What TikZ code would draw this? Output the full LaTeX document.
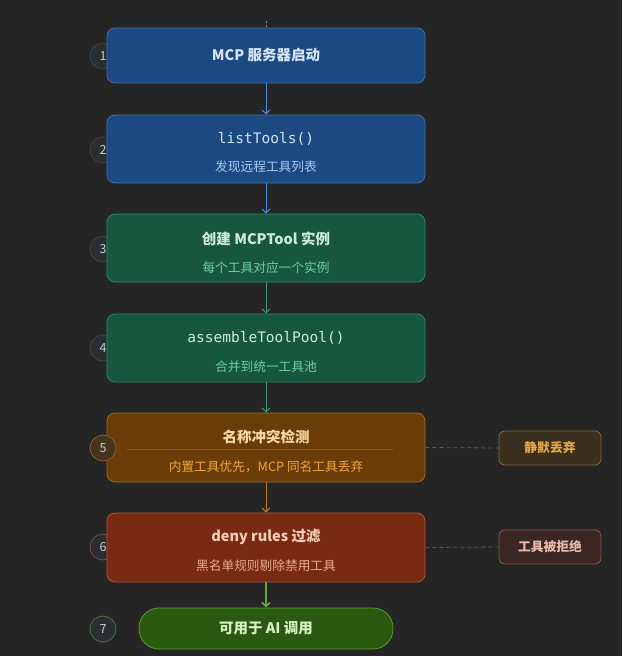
\documentclass[tikz,border=0pt]{standalone}
\usepackage{fontspec}
\setmainfont{Noto Sans CJK SC}
\setmonofont{DejaVu Sans Mono}
\usetikzlibrary{arrows.meta}
\definecolor{bg}{HTML}{252525}
\definecolor{bluefill}{HTML}{1B4A82}
\definecolor{blueline}{HTML}{3E6FA8}
\definecolor{bluetitle}{HTML}{D6E4F5}
\definecolor{bluesub}{HTML}{A9C9F0}
\definecolor{bluearrow}{HTML}{4F8CD6}
\definecolor{grnfill}{HTML}{17573F}
\definecolor{grnline}{HTML}{2E8764}
\definecolor{grntitle}{HTML}{CDEBDB}
\definecolor{grnsub}{HTML}{6FCF9F}
\definecolor{grnarrow}{HTML}{3A9A78}
\definecolor{orgfill}{HTML}{6A3C08}
\definecolor{orgline}{HTML}{A06A22}
\definecolor{orgtitle}{HTML}{F6DAA8}
\definecolor{orgsub}{HTML}{F0A63E}
\definecolor{orgarrow}{HTML}{B07A30}
\definecolor{redfill}{HTML}{782A12}
\definecolor{redline}{HTML}{B05636}
\definecolor{redtitle}{HTML}{F6CDB6}
\definecolor{redsub}{HTML}{E9AA92}
\definecolor{limefill}{HTML}{2A5A10}
\definecolor{limeline}{HTML}{5C9C32}
\definecolor{limetext}{HTML}{DAF0C4}
\definecolor{limearrow}{HTML}{6E9E42}
\definecolor{sideofill}{HTML}{3A2F1F}
\definecolor{sideoline}{HTML}{8A6A36}
\definecolor{sideotext}{HTML}{E8A841}
\definecolor{siderfill}{HTML}{3A2623}
\definecolor{siderline}{HTML}{8A5A50}
\definecolor{sidertext}{HTML}{E9B9A8}
\definecolor{circfill}{HTML}{2A2E31}
\definecolor{circline}{HTML}{3A4550}
\definecolor{circtext}{HTML}{C4CCD4}
\tikzset{
  stepbox/.style={rounded corners=8pt, line width=0.8pt, minimum width=318pt, inner sep=0pt},
  numcirc/.style={circle, minimum size=26pt, inner sep=0pt, fill=circfill, draw=circline, line width=0.8pt, text=circtext, font=\fontsize{12.5}{14}\selectfont},
  flow/.style={line width=1pt, -{Straight Barb[length=4pt,width=8pt]}},
  sidebox/.style={rounded corners=6pt, line width=0.8pt, minimum width=102pt, minimum height=34pt, inner sep=0pt, font=\fontsize{12.8}{15}\selectfont\bfseries},
  titlef/.style={font=\fontsize{14.5}{17}\selectfont\bfseries},
  monof/.style={font=\fontsize{14.5}{17}\ttfamily},
  subf/.style={font=\fontsize{12.7}{15}\selectfont},
  sidelink/.style={dashed, dash pattern=on 4pt off 3pt, line width=0.8pt}
}
\begin{document}
\begin{tikzpicture}[x=1pt,y=-1pt]
\fill[bg] (0,0) rectangle (622,656);
\useasboundingbox (0,0) rectangle (622,656);
% number circles (behind boxes)
\node[numcirc] (c1) at (103,56) {1};
\node[numcirc] (c2) at (103,150) {2};
\node[numcirc] (c3) at (103,249) {3};
\node[numcirc] (c4) at (103,348) {4};
\node[numcirc, draw=redline!50!circline] (c6) at (103,547) {6};
\node[numcirc, draw=limeline!50!circline] (c7) at (103,629) {7};
% boxes
\node[stepbox, fill=bluefill, draw=blueline, minimum height=55pt] (b1) at (266,55.5) {};
\node[titlef, text=bluetitle] (t1) at (266,55.5) {MCP 服务器启动};
\node[stepbox, fill=bluefill, draw=blueline, minimum height=68pt] (b2) at (266,149) {};
\node[monof, text=bluetitle] (t2) at (266,139) {listTools()};
\node[subf, text=bluesub] (s2) at (266,167) {发现远程工具列表};
\node[stepbox, fill=grnfill, draw=grnline, minimum height=68pt] (b3) at (266,248) {};
\node[titlef, text=grntitle] (t3) at (266,239) {创建 MCPTool 实例};
\node[subf, text=grnsub] (s3) at (266,268) {每个工具对应一个实例};
\node[stepbox, fill=grnfill, draw=grnline, minimum height=68pt] (b4) at (266,348) {};
\node[monof, text=grntitle] (t4) at (266,338) {assembleToolPool()};
\node[subf, text=grnsub] (s4) at (266,367) {合并到统一工具池};
\node[stepbox, fill=orgfill, draw=orgline, minimum height=69pt] (b5) at (266,447.5) {};
\coordinate (l5a) at (127,449);
\coordinate (l5b) at (393,449);
\draw[orgline!60!orgfill, line width=0.6pt] (l5a) -- (l5b);
\node[titlef, text=orgtitle] (t5) at (266,437) {名称冲突检测};
\node[subf, text=orgsub] (s5) at (266,467) {内置工具优先，MCP 同名工具丢弃};
\node[numcirc, fill=orgfill!45!circfill, draw=orgline!70!circline, text=circtext] (c5) at (103,448) {5};
\node[stepbox, fill=redfill, draw=redline, minimum height=69pt] (b6) at (266,547.5) {};
\node[titlef, text=redtitle] (t6) at (266,537) {deny rules 过滤};
\node[subf, text=redsub] (s6) at (266,566) {黑名单规则剔除禁用工具};
\node[rounded corners=20pt, line width=0.8pt, fill=limefill, draw=limeline, minimum width=254pt, minimum height=41pt, inner sep=0pt] (b7) at (266,628.5) {};
\node[titlef, text=limetext] (t7) at (266,628.5) {可用于 AI 调用};
% side boxes
\node[sidebox, fill=sideofill, draw=sideoline, text=sideotext] (x5) at (550,448) {静默丢弃};
\node[sidebox, fill=siderfill, draw=siderline, text=sidertext] (x6) at (550,547) {工具被拒绝};
\draw[sidelink, draw=sideoline!75!bg] (b5.east) -- (x5.west);
\draw[sidelink, draw=siderline!70!bg] (b6.east) -- (x6.west);
% top stub
\coordinate (top) at (266,21);
\draw[gray, line width=1pt, dash pattern=on 2pt off 2pt] (top) -- (b1.north);
% flow arrows
\draw[flow, bluearrow] (b1.south) -- (b2.north);
\draw[flow, bluearrow] (b2.south) -- (b3.north);
\draw[flow, grnarrow] (b3.south) -- (b4.north);
\draw[flow, grnarrow] (b4.south) -- (b5.north);
\draw[flow, orgarrow] (b5.south) -- (b6.north);
\draw[flow, limearrow, line width=1.6pt] (b6.south) -- (b7.north);
\end{tikzpicture}
\end{document}
